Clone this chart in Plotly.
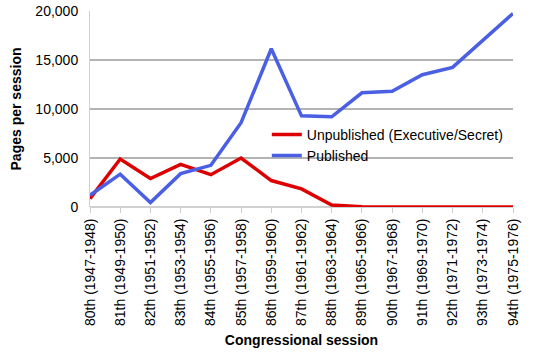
import plotly.graph_objects as go

sessions = ["80th (1947-1948)", "81th (1949-1950)", "82th (1951-1952)", "83th (1953-1954)",
            "84th (1955-1956)", "85th (1957-1958)", "86th (1959-1960)", "87th (1961-1962)",
            "88th (1963-1964)", "89th (1965-1966)", "90th (1967-1968)", "91th (1969-1970)",
            "92th (1971-1972)", "93th (1973-1974)", "94th (1975-1976)"]
unpublished = [850, 4900, 2900, 4350, 3300, 5000, 2700, 1850, 200, 30, 0, 0, 0, 0, 0]
published = [1200, 3350, 450, 3400, 4250, 8600, 16150, 9300, 9200, 11650, 11800, 13500, 14250, 17000, 19750]
y_ticks = [0, 5000, 10000, 15000, 20000]
y_tick_labels = ["0", "5,000", "10,000", "15,000", "20,000"]

FONT = "Arial, Liberation Sans, sans-serif"

fig = go.Figure()
fig.add_trace(go.Scatter(x=sessions, y=unpublished, mode="lines", name="Unpublished (Executive/Secret)",
                         line=dict(color="#dc0000", width=3.5), cliponaxis=False))
fig.add_trace(go.Scatter(x=sessions, y=published, mode="lines", name="Published",
                         line=dict(color="#4a5fe3", width=3.5), cliponaxis=False))

fig.update_layout(
    width=533, height=359,
    margin=dict(l=90, r=20, t=11, b=152),
    paper_bgcolor="white", plot_bgcolor="white",
    font=dict(family=FONT, size=14, color="black"),
    showlegend=True,
    legend=dict(x=0.418, y=0.45, xanchor="left", yanchor="top", bgcolor="rgba(0,0,0,0)",
                font=dict(size=14), itemwidth=30, tracegroupgap=0),
)
fig.update_xaxes(
    type="category", range=[0, 14], tickangle=-90, automargin=False,
    showgrid=False, ticks="outside", ticklen=5, tickcolor="#cccccc",
    showline=False, zeroline=False,
    tickfont=dict(size=14),
    title=dict(text="<b>Congressional session</b>", font=dict(size=14), standoff=10),
)
fig.update_yaxes(
    range=[0, 20000], tickvals=y_ticks, ticktext=y_tick_labels, automargin=False,
    showgrid=True, gridcolor="#b3b3b3", gridwidth=1.5,
    zeroline=True, zerolinecolor="#d0d0d0", zerolinewidth=1.5,
    showline=True, linecolor="#d0d0d0", linewidth=1,
    ticks="", ticklabelstandoff=8,
    tickfont=dict(size=14),
    title=dict(text="<b>Pages per session</b>", font=dict(size=14), standoff=10),
)

fig.write_html("out.html", config={"displayModeBar": False},
               post_script="document.body.style.margin='0';document.body.style.overflow='hidden';")
